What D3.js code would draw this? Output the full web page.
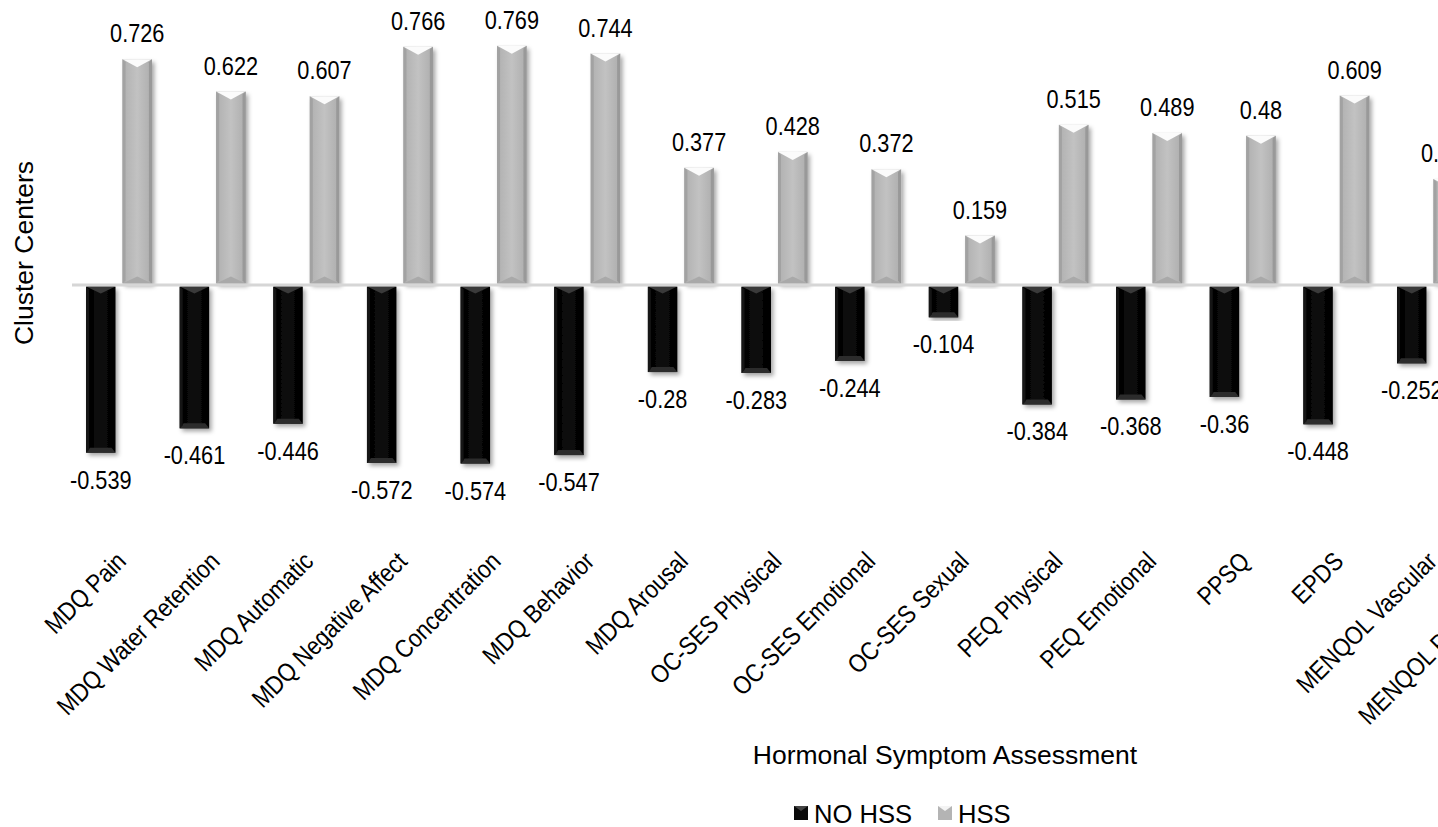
<!DOCTYPE html>
<html><head><meta charset="utf-8">
<script src="https://cdn.jsdelivr.net/npm/d3@7"></script>
<style>body{margin:0;background:#fff;overflow:hidden}svg{display:block}text{font-family:"Liberation Sans",Arial,sans-serif;fill:#000}</style>
</head><body><svg id="c" width="1438" height="827"></svg>
<script>
const categories = ["MDQ Pain","MDQ Water Retention","MDQ Automatic","MDQ Negative Affect","MDQ Concentration","MDQ Behavior","MDQ Arousal","OC-SES Physical","OC-SES Emotional","OC-SES Sexual","PEQ Physical","PEQ Emotional","PPSQ","EPDS","MENQOL Vascular","MENQOL Psychosocial"];
const seriesNames = ["NO HSS","HSS"];
const noHss = [-0.539,-0.461,-0.446,-0.572,-0.574,-0.547,-0.28,-0.283,-0.244,-0.104,-0.384,-0.368,-0.36,-0.448,-0.252,null];
const hss = [0.726,0.622,0.607,0.766,0.769,0.744,0.377,0.428,0.372,0.159,0.515,0.489,0.48,0.609,0.341,null];
const yTitle = "Cluster Centers";
const xTitle = "Hormonal Symptom Assessment";

const svg = d3.select("#c");
const defs = svg.append("defs");
const f = defs.append("filter").attr("id","sh").attr("x","-30%").attr("y","-10%").attr("width","160%").attr("height","120%");
f.append("feDropShadow").attr("dx",2.5).attr("dy",3).attr("stdDeviation",2).attr("flood-color","#000").attr("flood-opacity",0.35);
function hgrad(id, stops){const g=defs.append("linearGradient").attr("id",id).attr("x1","0").attr("x2","1").attr("y1","0").attr("y2","0");stops.forEach(s=>g.append("stop").attr("offset",s[0]).attr("stop-color",s[1]));}
hgrad("gGray",[[0,"#a4a4a4"],[0.12,"#b4b4b4"],[0.5,"#c2c2c2"],[0.88,"#b2b2b2"],[1,"#9c9c9c"]]);
hgrad("gBlack",[[0,"#000"],[0.5,"#0c0c0c"],[1,"#000"]]);

const x0 = d3.scaleBand().domain(categories).range([72, 72 + categories.length*93.64]).padding(0);
const bw = x0.bandwidth();
const x1 = d3.scaleBand().domain(seriesNames).range([bw*0.15, bw*0.854]).paddingInner(0.192);
const y = d3.scaleLinear().domain([-0.8,0.8]).range([533.8,36.2]);

const data = [];
categories.forEach((c,i)=>{
  [[seriesNames[0],noHss[i]],[seriesNames[1],hss[i]]].forEach(([s,v])=>{ if(v!==null) data.push({c,s,v}); });
});

const g = svg.append("g");
const bars = g.selectAll("g.bar").data(data).enter().append("g").attr("class","bar");
bars.each(function(d){
  const sel = d3.select(this);
  const xa = x0(d.c)+x1(d.s), w = x1.bandwidth(), xb = xa+w, xc = xa+w/2;
  const gap = 1.5;
  const ya = d.v>=0 ? y(d.v) : y(0)+gap, yb = d.v>=0 ? y(0)-gap : y(d.v);
  const black = d.s===seriesNames[0];
  sel.append("rect").attr("x",xa).attr("y",ya).attr("width",w).attr("height",yb-ya)
    .attr("fill", black?"url(#gBlack)":"url(#gGray)").attr("filter","url(#sh)");
  const b = 7;
  if(black){
    sel.append("path").attr("d",`M${xa},${ya}L${xb},${ya}L${xc},${ya+b}Z`).attr("fill","#3a3a3a");
    sel.append("path").attr("d",`M${xa},${yb}L${xb},${yb}L${xb-4},${yb-5}L${xa+4},${yb-5}Z`).attr("fill","#2c2c2c");
    sel.append("path").attr("d",`M${xa},${ya}L${xa+3},${ya+3}L${xa+3},${yb-3}L${xa},${yb}Z`).attr("fill","#151515");
  } else {
    sel.append("path").attr("d",`M${xa},${yb}L${xc},${yb-b}L${xb},${yb}Z`).attr("fill","#a9a9a9");
    sel.append("path").attr("d",`M${xa},${ya}L${xa+3},${ya+3}L${xa+3},${yb-3}L${xa},${yb}Z`).attr("fill","#a2a2a2");
    sel.append("path").attr("d",`M${xb},${ya}L${xb-3},${ya+3}L${xb-3},${yb-3}L${xb},${yb}Z`).attr("fill","#999");
    sel.append("path").attr("d",`M${xa},${ya}L${xb},${ya}L${xc},${ya+b+1}Z`).attr("fill","#fbfbfb");
  }
  const lx = xc, ly = d.v>=0 ? y(d.v)-17 : y(d.v)+36;
  sel.append("text").attr("transform",`translate(${lx},${ly}) scale(0.82,1)`)
    .attr("text-anchor","middle").attr("font-size",26.5).text(String(d.v));
});

// zero line
svg.append("line").attr("x1",72).attr("x2",1438).attr("y1",y(0)).attr("y2",y(0)).attr("stroke","#d6d6d6").attr("stroke-width",3);

// category labels
const xAxis = d3.axisBottom(x0).tickSize(0);
const ax = svg.append("g").attr("transform","translate(0,559)").call(xAxis);
ax.select(".domain").remove();
ax.selectAll("text").attr("font-size",25.5).attr("font-family","Liberation Sans, Arial, sans-serif").attr("fill","#000")
  .attr("text-anchor","end").attr("x",4).attr("y",0).attr("dy","0.35em").attr("transform","rotate(-45) scale(0.87,1)");

// titles
svg.append("text").attr("x",945).attr("y",764).attr("text-anchor","middle").attr("font-size",26.5).text(xTitle);
svg.append("text").attr("transform","translate(33,253) rotate(-90)").attr("text-anchor","middle").attr("font-size",26.5).text(yTitle);

// legend
const leg = svg.append("g");
const legItems = [{n:seriesNames[0],x:794,black:true},{n:seriesNames[1],x:938,black:false}];
legItems.forEach(it=>{
  const s=14, xa=it.x, ya=806;
  leg.append("rect").attr("x",xa).attr("y",ya).attr("width",s).attr("height",s).attr("fill",it.black?"#0a0a0a":"#b4b4b4");
  leg.append("path").attr("d",`M${xa},${ya}L${xa+s},${ya}L${xa+s/2},${ya+5}Z`).attr("fill",it.black?"#444":"#f4f4f4");
  leg.append("text").attr("x",xa+20).attr("y",823).attr("font-size",25.6).text(it.n);
});
</script></body></html>
